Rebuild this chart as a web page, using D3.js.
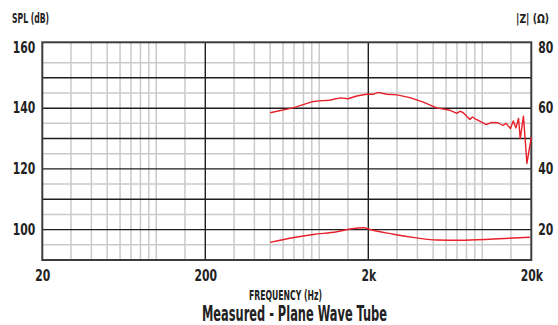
<!DOCTYPE html>
<html>
<head>
<meta charset="utf-8">
<script src="https://cdn.jsdelivr.net/npm/d3@7"></script>
<style>
  html, body { margin: 0; padding: 0; background: #fff; }
  svg { display: block; }
  text { font-family: "Liberation Sans Narrow", "DejaVu Sans Condensed", sans-serif; fill: #222; }
</style>
</head>
<body>
<div id="chart"></div>
<script>
// frequency response (SPL, dB)
const splFreq = [500, 700, 780, 900, 1000, 1150, 1350, 1500, 1700, 1950, 2150, 2300, 2600, 3000, 3600, 4350, 5250, 6350, 7000, 7300, 7650, 8400, 8700, 9250, 10600, 11400, 12500, 13400, 14000, 14900, 15500, 16100, 16700, 17100, 17900, 18800, 20000];
const splDb = [138.5, 140.2, 141.0, 142.1, 142.4, 142.6, 143.4, 143.1, 144.0, 144.6, 144.6, 145.2, 144.6, 144.4, 143.5, 142.0, 140.1, 139.3, 138.3, 139.0, 138.5, 136.3, 137.1, 136.2, 134.6, 135.3, 135.2, 134.3, 135.0, 133.3, 135.8, 133.5, 136.6, 130.0, 137.4, 121.8, 130.5];

// impedance (ohm)
const impFreq = [500, 700, 920, 1280, 1550, 1900, 2000, 2850, 3950, 5250, 7300, 11700, 19600];
const impOhm = [15.8, 17.4, 18.4, 19.3, 20.2, 20.6, 20.2, 18.5, 17.3, 16.6, 16.5, 16.9, 17.5];

const xTickVals = [20, 200, 2000, 20000];
const xTickLabels = ['20', '200', '2k', '20k'];
const splTicks = [100, 120, 140, 160];
const impTicks = [20, 40, 60, 80];
const majorFreqGrid = [200, 2000];
const minorFreqGrid = [30, 40, 50, 60, 70, 80, 90, 100, 150,
                       300, 400, 500, 600, 700, 800, 900, 1000, 1500,
                       3000, 4000, 5000, 6000, 7000, 8000, 9000, 10000, 15000];
const majorDbGrid = [100, 110, 120, 130, 140, 150];
const minorDbGrid = [95, 105, 115, 125, 135, 145, 155];

const W = 558, H = 325;
const plotL = 42.3, plotR = 531.3, plotT = 42.3, plotB = 260;

const svg = d3.select('#chart').append('svg')
    .attr('width', W)
    .attr('height', H);

const x = d3.scaleLog().domain([20, 20000]).range([plotL, plotR]);
const y = d3.scaleLinear().domain([90, 161.7]).range([plotB, plotT]);
const yImp = d3.scaleLinear().domain([10, 81.7]).range([plotB, plotT]);

// grid
const grid = svg.append('g');
grid.selectAll('.vminor').data(minorFreqGrid).enter().append('line')
    .attr('x1', d => x(d)).attr('x2', d => x(d))
    .attr('y1', plotT).attr('y2', plotB)
    .attr('stroke', '#cacaca').attr('stroke-width', 1.5);
grid.selectAll('.hminor').data(minorDbGrid).enter().append('line')
    .attr('x1', plotL).attr('x2', plotR)
    .attr('y1', d => y(d)).attr('y2', d => y(d))
    .attr('stroke', '#cacaca').attr('stroke-width', 1.5);
grid.selectAll('.vmajor').data(majorFreqGrid).enter().append('line')
    .attr('x1', d => x(d)).attr('x2', d => x(d))
    .attr('y1', plotT).attr('y2', plotB)
    .attr('stroke', '#1e1e1e').attr('stroke-width', 1.4);
grid.selectAll('.hmajor').data(majorDbGrid).enter().append('line')
    .attr('x1', plotL).attr('x2', plotR)
    .attr('y1', d => y(d)).attr('y2', d => y(d))
    .attr('stroke', '#1e1e1e').attr('stroke-width', 1.4);

// frame
svg.append('rect')
    .attr('x', plotL).attr('y', plotT)
    .attr('width', plotR - plotL).attr('height', plotB - plotT)
    .attr('fill', 'none')
    .attr('stroke', '#3c3c3c')
    .attr('stroke-width', 2);

// curves
const splLine = d3.line()
    .x((d, i) => x(splFreq[i]))
    .y(d => y(d));
svg.append('path')
    .datum(splDb)
    .attr('d', splLine)
    .attr('fill', 'none')
    .attr('stroke', '#e8202a')
    .attr('stroke-width', 1.4)
    .attr('stroke-linejoin', 'round');

const impLine = d3.line()
    .x((d, i) => x(impFreq[i]))
    .y(d => yImp(d))
    .curve(d3.curveMonotoneX);
svg.append('path')
    .datum(impOhm)
    .attr('d', impLine)
    .attr('fill', 'none')
    .attr('stroke', '#e8202a')
    .attr('stroke-width', 1.4);

// axes (labels only)
const xAxis = d3.axisBottom(x)
    .tickValues(xTickVals)
    .tickFormat((d, i) => xTickLabels[i])
    .tickSize(0)
    .tickPadding(10);
const yAxisL = d3.axisLeft(y).tickValues(splTicks).tickSize(0).tickPadding(7);
const yAxisR = d3.axisRight(yImp).tickValues(impTicks).tickSize(0).tickPadding(7);

svg.append('g').attr('transform', `translate(0,${plotB})`).call(xAxis);
svg.append('g').attr('transform', `translate(${plotL},0)`).call(yAxisL);
svg.append('g').attr('transform', `translate(${plotR},0)`).call(yAxisR);

svg.selectAll('.domain').remove();
svg.selectAll('.tick text')
    .style('font-size', '15px')
    .style('font-weight', 'bold')
    .attr('fill', '#222')
    .each(function () {
        const w = this.getComputedTextLength();
        d3.select(this).attr('textLength', w * 0.8).attr('lengthAdjust', 'spacingAndGlyphs');
    });

// titles
function label(txt, tx, ty, size, len, anchor) {
    svg.append('text')
        .attr('x', tx).attr('y', ty)
        .attr('text-anchor', anchor || 'start')
        .attr('textLength', len)
        .attr('lengthAdjust', 'spacingAndGlyphs')
        .style('font-size', size + 'px')
        .style('font-weight', 'bold')
        .text(txt);
}
label('SPL (dB)', 12, 23, 14, 37);
label('|Z| (\u03A9)', 549, 23, 13, 33, 'end');
label('FREQUENCY (Hz)', 249, 300, 14, 73);
label('Measured - Plane Wave Tube', 202, 321, 21, 185);
</script>
</body>
</html>
